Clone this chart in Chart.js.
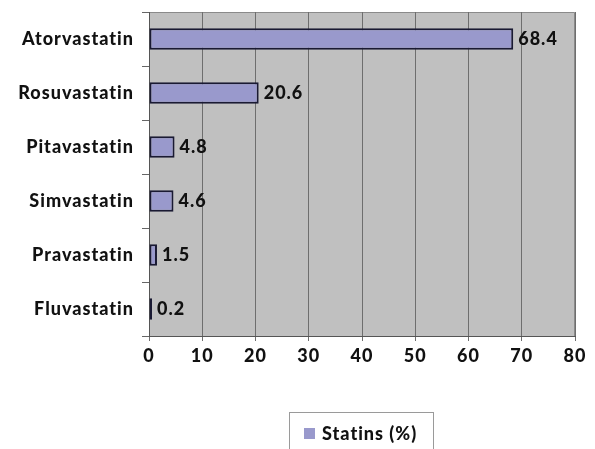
<!DOCTYPE html>
<html>
<head>
<meta charset="utf-8">
<script src="https://cdn.jsdelivr.net/npm/chart.js@4"></script>
<style>
  html, body { margin: 0; padding: 0; background: #fff; }
  #wrap { width: 595px; height: 449px; }
</style>
</head>
<body>
<div id="wrap"><canvas id="chart"></canvas></div>
<script>
const drugs = ['Atorvastatin', 'Rosuvastatin', 'Pitavastatin', 'Simvastatin', 'Pravastatin', 'Fluvastatin'];
const statinShare = [68.4, 20.6, 4.8, 4.6, 1.5, 0.2];
const xTicks = [0, 10, 20, 30, 40, 50, 60, 70, 80];
const seriesName = 'Statins (%)';

const FONT = 'Lato';
const WEIGHT = '900';
const SPACING = '1px';

// grey plot background + wider letter spacing for all chart text
const plotBg = {
  id: 'plotBg',
  beforeInit(chart) { chart.ctx.letterSpacing = SPACING; },
  beforeDraw(chart) {
    const a = chart.chartArea, ctx = chart.ctx;
    ctx.letterSpacing = SPACING;
    ctx.save();
    ctx.fillStyle = '#c0c0c0';
    ctx.fillRect(a.left, a.top, a.right - a.left, a.bottom - a.top);
    ctx.strokeStyle = '#8a8a8a';
    ctx.lineWidth = 1;
    ctx.beginPath();
    ctx.moveTo(a.left, a.top + 0.5);
    ctx.lineTo(a.right - 0.5, a.top + 0.5);
    ctx.lineTo(a.right - 0.5, a.bottom);
    ctx.stroke();
    ctx.restore();
  }
};

// value labels at the end of each bar
const valueLabels = {
  id: 'valueLabels',
  afterDatasetsDraw(chart) {
    const ctx = chart.ctx;
    const meta = chart.getDatasetMeta(0);
    ctx.save();
    ctx.font = WEIGHT + ' 18px ' + FONT;
    ctx.fillStyle = '#111';
    ctx.textAlign = 'left';
    ctx.textBaseline = 'middle';
    meta.data.forEach((bar, i) => {
      ctx.fillText(String(statinShare[i]), bar.x + 5, bar.y);
    });
    ctx.restore();
  }
};

// boxed legend under the chart
const boxLegend = {
  id: 'boxLegend',
  afterDraw(chart) {
    const ctx = chart.ctx;
    ctx.save();
    ctx.font = WEIGHT + ' 18px ' + FONT;
    const left = 289, top = 412, boxW = 144;
    ctx.strokeStyle = '#9a9a9a';
    ctx.lineWidth = 1;
    ctx.strokeRect(left + 0.5, top + 0.5, boxW, 50);
    ctx.fillStyle = '#9999cc';
    ctx.fillRect(left + 15, top + 16, 11, 11);
    ctx.fillStyle = '#111';
    ctx.textBaseline = 'middle';
    ctx.fillText(seriesName, left + 33, top + 22);
    ctx.restore();
  }
};

new Chart(document.getElementById('chart'), {
  type: 'bar',
  data: {
    labels: drugs,
    datasets: [{
      label: seriesName,
      data: statinShare,
      backgroundColor: '#9999cc',
      borderColor: '#1a1a33',
      borderWidth: 2,
      borderSkipped: false,
      barPercentage: 0.4,
      categoryPercentage: 1,
      minBarLength: 3
    }]
  },
  options: {
    indexAxis: 'y',
    responsive: true,
    maintainAspectRatio: false,
    animation: false,
    layout: { padding: { left: 0, top: 12, right: 20, bottom: 73 } },
    plugins: {
      legend: { display: false },
      tooltip: { enabled: false }
    },
    scales: {
      x: {
        min: 0,
        max: 80,
        afterBuildTicks(scale) { scale.ticks = xTicks.map(v => ({ value: v })); },
        afterFit(scale) { scale.height = 40; },
        grid: { color: '#6e6e6e', tickLength: 5, drawTicks: true },
        border: { color: '#555', width: 1 },
        ticks: { color: '#111', font: { family: FONT, size: 18, weight: WEIGHT }, padding: 4, maxRotation: 0 }
      },
      y: {
        afterFit(scale) {
          scale.width = 149;
          scale.paddingTop = 0;
          scale.paddingBottom = 0;
        },
        grid: { drawOnChartArea: false, drawTicks: true, tickLength: 7, color: '#666', offset: true },
        border: { color: '#555', width: 1 },
        ticks: { color: '#111', font: { family: FONT, size: 18, weight: WEIGHT }, padding: 8 }
      }
    }
  },
  plugins: [plotBg, valueLabels, boxLegend]
});
</script>
</body>
</html>
